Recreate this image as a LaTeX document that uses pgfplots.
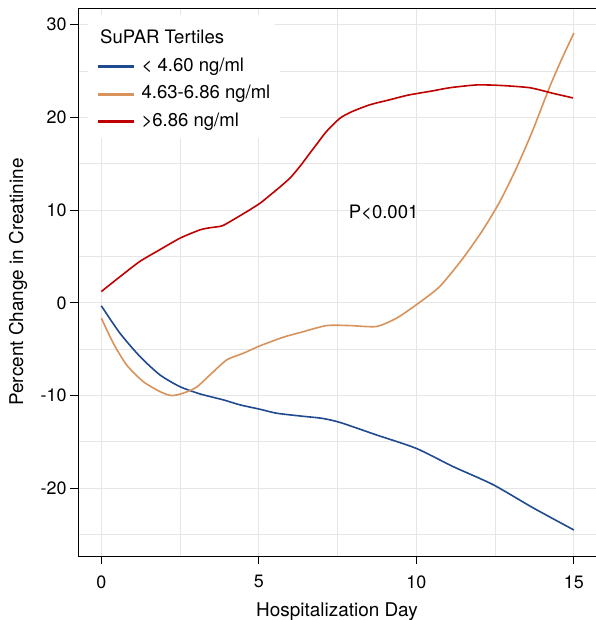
\documentclass[border=0pt]{standalone}
\usepackage{fontspec}
\setmainfont{TeX Gyre Heros}
\usepackage{pgfplots}
\pgfplotsset{compat=1.18}
\definecolor{cblue}{HTML}{1F4A8F}
\definecolor{corange}{HTML}{D8935C}
\definecolor{cred}{HTML}{C00000}
\definecolor{cgrid}{HTML}{E6E6E6}
\begin{document}
\begin{tikzpicture}[font=\fontsize{18.6}{22}\selectfont]
\useasboundingbox (-78bp,-64bp) rectangle (518bp,556bp);
\begin{axis}[
  at={(0,0)}, anchor=south west,
  scale only axis,
  width=518bp, height=548bp,
  xmin=-0.74, xmax=15.70,
  ymin=-27.3, ymax=31.8,
  axis lines=left,
  axis line style={-, black, line width=0.9bp},
  xtick={0,5,10,15},
  ytick={-20,-10,0,10,20,30},
  minor xtick={2.5,7.5,12.5},
  minor ytick={-25,-15,-5,5,15,25},
  grid=both,
  major grid style={cgrid, line width=1bp},
  minor grid style={cgrid, line width=1bp},
  tick align=outside,
  major tick length=8bp,
  minor tick length=0bp,
  tick style={black, line width=0.9bp},
  /pgf/number format/assume math mode=true,
  ticklabel style={font=\fontsize{18}{21}\selectfont},
  xticklabel style={yshift=-8bp},
  xlabel={Hospitalization Day},
  ylabel={Percent Change in Creatinine},
  every axis x label/.style={at={(rel axis cs:0.5,0)}, anchor=base, yshift=-60bp, font=\fontsize{19}{22}\selectfont},
  every axis y label/.style={at={(rel axis cs:0,0.5)}, xshift=-60bp, rotate=90, anchor=center, font=\fontsize{19}{22}\selectfont},
  legend cell align=left,
  legend image code/.code={\fill[#1] (0bp,-0.85bp) rectangle (35bp,0.85bp);},
  legend style={
    at={(rel axis cs:0.0193,0.9242)}, anchor=north west,
    fill=white, draw=none,
    inner xsep=10bp, inner ysep=8bp,
    row sep=10bp, column sep=8bp,
    nodes={inner sep=0pt, text height=13.5bp, text depth=4bp, font=\fontsize{18.6}{22}\selectfont},
  },
  clip=true,
]
\fill[white] (rel axis cs:0.0193,0.9872) rectangle (rel axis cs:0.3803,0.7682);

\addlegendimage{cblue}
\addlegendentry{< 4.60 ng/ml}
\addlegendimage{corange}
\addlegendentry{4.63-6.86 ng/ml}
\addlegendimage{cred}
\addlegendentry{>6.86 ng/ml}

\addplot[forget plot, cblue, line width=1.6bp, smooth, tension=0.4] coordinates {
(0,-0.32) (0.59,-3.27) (1.23,-5.8) (1.86,-7.77) (2.49,-9.03) (3.13,-9.82) (3.87,-10.46)
(4.4,-11.0) (5.03,-11.47) (5.56,-11.9) (6.31,-12.2) (7.0,-12.45) (7.58,-12.9)
(8.73,-14.24) (10,-15.7) (11.16,-17.65) (12.43,-19.6) (13.7,-22.1) (15,-24.5)
};

\addplot[forget plot, corange, line width=1.6bp, smooth, tension=0.4] coordinates {
(0,-1.65) (0.38,-4.35) (0.8,-6.69) (1.33,-8.49) (1.86,-9.57) (2.23,-10.0) (2.6,-9.74)
(3.02,-9.1) (3.45,-7.77) (3.98,-6.15) (4.51,-5.43) (5.03,-4.64) (5.78,-3.7) (6.31,-3.2)
(7.15,-2.45) (7.89,-2.45) (8.73,-2.55) (9.37,-1.65) (10,-0.2) (10.74,1.76) (11.48,4.82)
(12.11,7.87) (12.65,10.93) (13.17,14.5) (13.7,18.66) (14.23,23.3) (14.65,26.57) (15,29.1)
};

\addplot[forget plot, cred, line width=1.6bp, smooth, tension=0.4] coordinates {
(0,1.22) (0.6,2.84) (1.22,4.46) (1.85,5.72) (2.5,6.98) (3.13,7.87) (3.45,8.1) (3.83,8.3)
(4.18,8.95) (4.6,9.8) (5.04,10.75) (5.35,11.6) (5.67,12.5) (6.0,13.5) (6.31,14.75)
(6.62,16.15) (6.9,17.4) (7.15,18.5) (7.57,19.9) (7.94,20.6) (8.52,21.36) (9.15,21.9)
(9.73,22.4) (10.5,22.85) (11.06,23.2) (11.9,23.5) (12.65,23.45) (13.6,23.2) (14.33,22.6) (14.97,22.1)
};

\node[anchor=base west, inner sep=0pt] at (rel axis cs:0.0425,0.9361) {SuPAR Tertiles};
\node[anchor=west, inner sep=0pt] at (axis cs:7.85,9.8) {P<0.001};
\draw[black, line width=0.9bp] (rel axis cs:0,1) -- (rel axis cs:1,1);
\end{axis}
\end{tikzpicture}
\end{document}
